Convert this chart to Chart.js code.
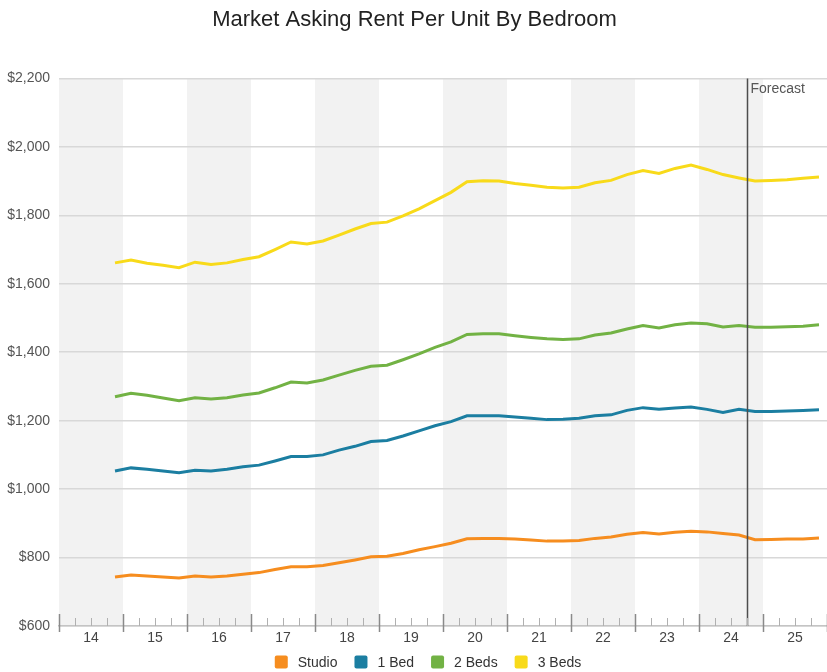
<!DOCTYPE html>
<html>
<head>
<meta charset="utf-8">
<title>Market Asking Rent Per Unit By Bedroom</title>
<script src="https://cdn.jsdelivr.net/npm/chart.js@4.4.1/dist/chart.umd.min.js"></script>
<style>
  html, body { margin: 0; padding: 0; background: #fff; }
  #wrap { width: 827px; height: 672px; }
</style>
</head>
<body>
<div id="wrap"><canvas id="rentChart"></canvas></div>
<script>
// quarterly asking rent, 2014 Q4 through 2025 Q4
const quarters = [
  '2014 Q4',
  '2015 Q1', '2015 Q2', '2015 Q3', '2015 Q4',
  '2016 Q1', '2016 Q2', '2016 Q3', '2016 Q4',
  '2017 Q1', '2017 Q2', '2017 Q3', '2017 Q4',
  '2018 Q1', '2018 Q2', '2018 Q3', '2018 Q4',
  '2019 Q1', '2019 Q2', '2019 Q3', '2019 Q4',
  '2020 Q1', '2020 Q2', '2020 Q3', '2020 Q4',
  '2021 Q1', '2021 Q2', '2021 Q3', '2021 Q4',
  '2022 Q1', '2022 Q2', '2022 Q3', '2022 Q4',
  '2023 Q1', '2023 Q2', '2023 Q3', '2023 Q4',
  '2024 Q1', '2024 Q2', '2024 Q3', '2024 Q4',
  '2025 Q1', '2025 Q2', '2025 Q3', '2025 Q4'
];
const studio = [743, 749, 746, 743, 740, 746, 743, 746, 751, 756, 765, 773, 773, 777, 785, 793, 802,
  804, 812, 823, 832, 842, 855, 856, 856, 854, 851, 848, 848, 850, 856, 860, 868,
  873, 869, 874, 877, 875, 870, 866, 852, 853, 854, 854, 857];
const oneBed = [1053, 1062, 1058, 1053, 1048, 1055, 1053, 1058, 1065, 1070, 1082, 1095, 1095, 1100, 1114, 1125, 1139,
  1142, 1155, 1170, 1185, 1197, 1214, 1214, 1214, 1211, 1207, 1203, 1204, 1207, 1214, 1217, 1230,
  1238, 1233, 1237, 1240, 1233, 1224, 1233, 1227, 1227, 1228, 1230, 1232];
const twoBeds = [1270, 1280, 1274, 1266, 1258, 1267, 1263, 1267, 1275, 1281, 1296, 1313, 1310, 1319, 1333, 1347, 1359,
  1362, 1378, 1395, 1414, 1430, 1452, 1454, 1454, 1448, 1443, 1439, 1437, 1439, 1450, 1456, 1468,
  1478, 1471, 1480, 1485, 1483, 1474, 1478, 1473, 1473, 1474, 1476, 1480];
const threeBeds = [1661, 1669, 1660, 1654, 1647, 1663, 1656, 1661, 1671, 1679, 1700, 1722, 1716, 1725, 1742, 1760, 1776,
  1780, 1798, 1819, 1843, 1867, 1898, 1901, 1900, 1893, 1888, 1882, 1880, 1882, 1895, 1902, 1919,
  1931, 1922, 1937, 1947, 1934, 1919, 1909, 1900, 1902, 1904, 1908, 1912];
const yearLabels = ['14', '15', '16', '17', '18', '19', '20', '21', '22', '23', '24', '25'];
const forecastFrom = '2024 Q4';

const FONT = "'Liberation Sans', Arial, Helvetica, sans-serif";
const firstYear = 14;
const lastYear = firstYear + yearLabels.length;

// '2015 Q1' -> 15.125 (middle of the quarter on a year axis)
function quarterPos(label) {
  const [yr, q] = label.split(' Q');
  return (Number(yr) - 2000) + (Number(q) - 0.5) / 4;
}

function series(values) {
  return values.map((v, i) => ({ x: quarterPos(quarters[i]), y: v }));
}

// grey band behind every other year
const yearBands = {
  id: 'yearBands',
  beforeDraw(chart) {
    const { ctx, chartArea: a, scales: { x } } = chart;
    ctx.save();
    ctx.fillStyle = '#f2f2f2';
    yearLabels.forEach((lbl, i) => {
      if (i % 2 !== 0) return;
      const x0 = x.getPixelForValue(firstYear + i);
      const x1 = x.getPixelForValue(firstYear + i + 1);
      ctx.fillRect(x0, a.top, x1 - x0, a.bottom - a.top);
    });
    ctx.restore();
  }
};

// year ticks cross the axis, quarter ticks sit on it
const quarterTicks = {
  id: 'quarterTicks',
  afterDraw(chart) {
    const { ctx, chartArea: a, scales: { x } } = chart;
    ctx.save();
    for (let t = firstYear; t <= lastYear; t += 0.25) {
      const px = Math.round(x.getPixelForValue(t)) + 0.5;
      const major = t % 1 === 0;
      ctx.strokeStyle = major ? '#8a8a8a' : '#b0b0b0';
      ctx.lineWidth = major ? 1.5 : 1;
      ctx.beginPath();
      ctx.moveTo(px, a.bottom - (major ? 12 : 8));
      ctx.lineTo(px, a.bottom + (major ? 6 : 0));
      ctx.stroke();
    }
    ctx.restore();
  }
};

const forecastMarker = {
  id: 'forecastMarker',
  afterDatasetsDraw(chart) {
    const { ctx, chartArea: a, scales: { x } } = chart;
    const px = Math.round(x.getPixelForValue(quarterPos(forecastFrom) - 0.125)) + 0.5;
    ctx.save();
    ctx.strokeStyle = '#4d4d4d';
    ctx.lineWidth = 1.5;
    ctx.beginPath();
    ctx.moveTo(px, a.top);
    ctx.lineTo(px, a.bottom);
    ctx.stroke();
    ctx.fillStyle = '#555';
    ctx.font = '14px ' + FONT;
    ctx.textBaseline = 'alphabetic';
    ctx.fillText('Forecast', px + 3, a.top + 15);
    ctx.restore();
  }
};

// legend row under the axis: rounded swatch, label, fixed gaps
const legendRow = {
  id: 'legendRow',
  afterDraw(chart) {
    const { ctx } = chart;
    const box = 13, gapText = 10, gapItem = 17, cy = 662, centerX = 428;
    ctx.save();
    ctx.font = '14px ' + FONT;
    const items = chart.data.datasets.map(ds => ({
      text: ds.label, color: ds.borderColor, w: box + gapText + ctx.measureText(ds.label).width
    }));
    const total = items.reduce((s, it) => s + it.w, 0) + gapItem * (items.length - 1);
    let x = centerX - total / 2;
    ctx.textBaseline = 'middle';
    items.forEach(it => {
      ctx.fillStyle = it.color;
      ctx.beginPath();
      ctx.roundRect(x, cy - box / 2, box, box, 2);
      ctx.fill();
      ctx.fillStyle = '#333';
      ctx.fillText(it.text, x + box + gapText, cy + 1);
      x += it.w + gapItem;
    });
    ctx.restore();
  }
};

function lineSet(label, values, color) {
  return {
    label: label,
    data: series(values),
    borderColor: color,
    backgroundColor: color,
    borderWidth: 3,
    pointRadius: 0,
    tension: 0
  };
}

const ctx = document.getElementById('rentChart').getContext('2d');
const rentChart = new Chart(ctx, {
  type: 'line',
  data: {
    datasets: [
      lineSet('Studio', studio, '#f68d1f'),
      lineSet('1 Bed', oneBed, '#1b7ea1'),
      lineSet('2 Beds', twoBeds, '#72b244'),
      lineSet('3 Beds', threeBeds, '#f8da1a')
    ]
  },
  options: {
    responsive: true,
    maintainAspectRatio: false,
    animation: false,
    layout: { padding: { top: 0, left: 0, right: -2, bottom: 22 } },
    scales: {
      x: {
        type: 'linear',
        min: firstYear,
        max: lastYear,
        grid: { display: true, drawOnChartArea: false, drawTicks: false },
        border: { display: true, color: '#c4c4c4', width: 1.5 },
        ticks: {
          stepSize: 0.5,
          autoSkip: false,
          maxRotation: 0,
          padding: 4,
          color: '#444',
          font: { family: FONT, size: 14 },
          callback: v => (v % 1 === 0.5) ? yearLabels[Math.floor(v) - firstYear] : ''
        },
        afterFit: s => { s.height = 24; s.paddingRight = 0; s.paddingLeft = 0; }
      },
      y: {
        min: 600,
        max: 2200,
        ticks: {
          stepSize: 200,
          padding: 9,
          color: '#555',
          font: { family: FONT, size: 14 },
          callback: v => '$' + v.toLocaleString('en-US')
        },
        grid: { color: '#d8d8d8', lineWidth: 1.5, drawTicks: false },
        border: { display: false },
        afterFit: s => { s.width = 59; }
      }
    },
    plugins: {
      title: {
        display: true,
        text: 'Market Asking Rent Per Unit By Bedroom',
        color: '#222',
        font: { family: FONT, size: 22, weight: 'normal' },
        padding: { top: 7, bottom: 45 }
      },
      legend: { display: false },
      tooltip: { enabled: false }
    }
  },
  plugins: [yearBands, quarterTicks, forecastMarker, legendRow]
});
</script>
</body>
</html>
